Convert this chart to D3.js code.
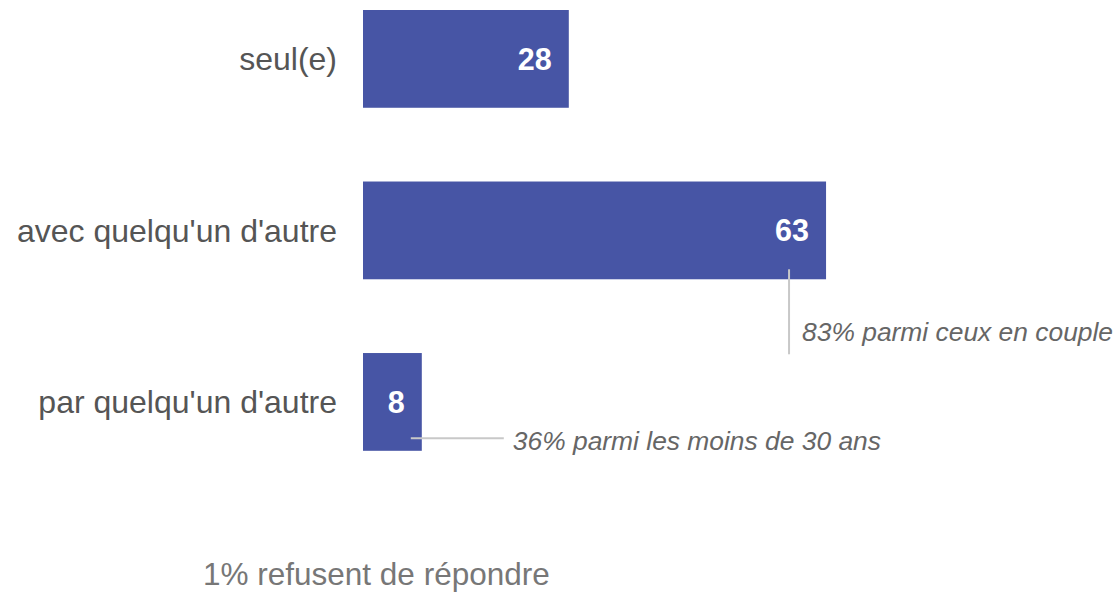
<!DOCTYPE html>
<html>
<head>
<meta charset="utf-8">
<script src="https://cdn.jsdelivr.net/npm/d3@7"></script>
<style>
  body { margin: 0; background: #fff; }
  svg { display: block; font-family: "Liberation Sans", Arial, sans-serif; }
</style>
</head>
<body>
<svg id="chart" width="1119" height="594"></svg>
<script>
const categories = ["seul(e)", "avec quelqu'un d'autre", "par quelqu'un d'autre"]
const values = [28, 63, 8]
const notes = ["", "83% parmi ceux en couple", "36% parmi les moins de 30 ans"]
const footnote = "1% refusent de répondre"

const svg = d3.select("#chart")
const barColor = "#4755a5"

const x = d3.scaleLinear().domain([0, 100]).range([363, 1098])
const y = d3.scaleBand().domain(categories).range([10, 450.8]).paddingInner(0.43)

const data = categories.map((c, i) => ({ cat: c, value: values[i], note: notes[i] }))

// bars
svg.selectAll("rect.bar")
  .data(data)
  .join("rect")
  .attr("class", "bar")
  .attr("x", x(0))
  .attr("y", d => y(d.cat))
  .attr("width", d => x(d.value) - x(0))
  .attr("height", y.bandwidth())
  .attr("fill", barColor)

// category labels
svg.selectAll("text.cat")
  .data(data)
  .join("text")
  .attr("class", "cat")
  .attr("x", x(0) - 26)
  .attr("y", d => y(d.cat) + y.bandwidth() / 2)
  .attr("dy", "0.35em")
  .attr("text-anchor", "end")
  .attr("fill", "#555")
  .style("font-size", "32px")
  .text(d => d.cat)

// values inside the bars
svg.selectAll("text.val")
  .data(data)
  .join("text")
  .attr("class", "val")
  .attr("x", d => x(d.value) - 17)
  .attr("y", d => y(d.cat) + y.bandwidth() / 2)
  .attr("dy", "0.36em")
  .attr("text-anchor", "end")
  .attr("fill", "#fff")
  .style("font-size", "30.5px")
  .style("font-weight", "bold")
  .text(d => d.value)

// annotation for the second bar: vertical leader line
const a1 = data[1]
const a1x = x(a1.value) - 37
const a1top = y(a1.cat) + y.bandwidth() - 10
svg.append("line")
  .attr("x1", a1x).attr("x2", a1x)
  .attr("y1", a1top).attr("y2", a1top + 85)
  .attr("stroke", "#c8c8c8")
  .attr("stroke-width", 2)
svg.append("text")
  .attr("x", a1x + 13)
  .attr("y", a1top + 72)
  .attr("fill", "#666")
  .style("font-size", "26.4px")
  .style("font-style", "italic")
  .text(a1.note)

// annotation for the third bar: horizontal leader line
const a2 = data[2]
const a2y = y(a2.cat) + y.bandwidth() - 12.5
const a2x = x(a2.value) - 11
svg.append("line")
  .attr("x1", a2x).attr("x2", a2x + 93)
  .attr("y1", a2y).attr("y2", a2y)
  .attr("stroke", "#c8c8c8")
  .attr("stroke-width", 2)
svg.append("text")
  .attr("x", a2x + 102)
  .attr("y", a2y + 12)
  .attr("fill", "#666")
  .style("font-size", "26.4px")
  .style("font-style", "italic")
  .text(a2.note)

// footnote
svg.append("text")
  .attr("x", 203)
  .attr("y", 585)
  .attr("fill", "#777")
  .style("font-size", "31.5px")
  .text(footnote)
</script>
</body>
</html>
